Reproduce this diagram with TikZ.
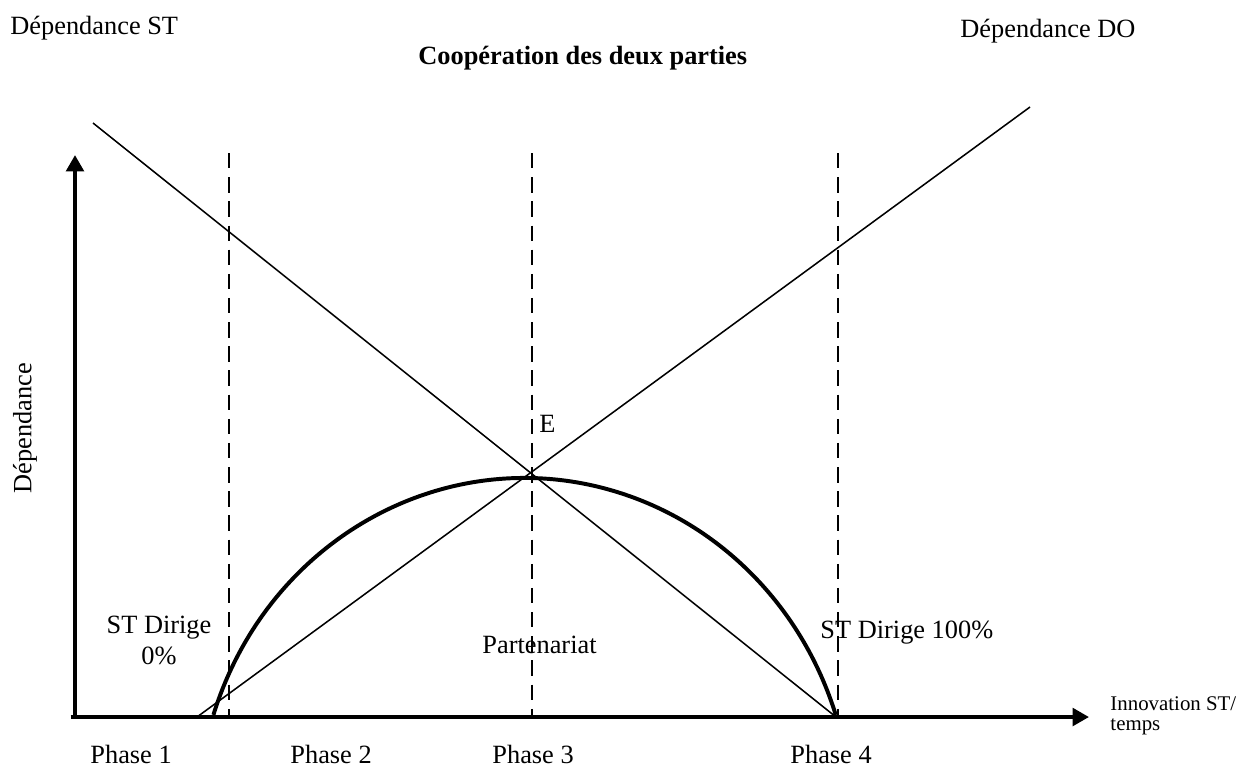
\documentclass[tikz,border=0pt]{standalone}
\usepackage{fontspec}
\setmainfont{Liberation Serif}
\usetikzlibrary{arrows.meta}
\tikzset{
  axe/.style={line width=1.8pt,-{Triangle[length=7.5pt,width=8pt]}},
  droite/.style={line width=0.7pt},
  limite/.style={line width=0.9pt,dash pattern=on 7pt off 4pt},
  courbe/.style={line width=1.8pt},
  txt/.style={inner sep=0pt,anchor=base west,font=\fontsize{12}{14}\selectfont},
  petit/.style={inner sep=0pt,anchor=base west,font=\fontsize{9.5}{10}\selectfont}
}
\begin{document}
\begin{tikzpicture}[x=0.16mm,y=0.16mm]
  \useasboundingbox (0,0) rectangle (1250,-769);
  % points
  \coordinate (O) at (75,-717);
  \coordinate (ytop) at (75,-155);
  \coordinate (xend) at (1089,-717);
  \coordinate (st1) at (93,-123);
  \coordinate (st2) at (836,-717);
  \coordinate (do1) at (197,-717);
  \coordinate (do2) at (1030,-107);
  \coordinate (c1) at (213.4,-714.9);
  % axes
  \draw[axe] (O) -- (ytop); % axe y
  \draw[axe] ([xshift=-2]O) -- (xend); % axe x
  % phases
  \foreach \x/\i in {229/1,532/2,838/3} {
    \coordinate (h\i) at (\x,-153);
    \coordinate (b\i) at (\x,-717);
    \draw[limite] (h\i) -- (b\i);
  }
  % les deux droites
  \draw[droite] (st1) -- (st2);
  \draw[droite] (do1) -- (do2);
  % cooperation
  \draw[courbe] (c1) arc[start angle=162.1,end angle=17.9,x radius=327,y radius=342];
  % textes
  \node[txt] (depst) at (10,-34) {Dépendance ST};
  \node[txt] (depdo) at (960,-37) {Dépendance DO};
  \node[txt,font=\fontsize{12}{14}\selectfont\bfseries] (titre) at (418,-64) {Coopération des deux parties};
  \node[inner sep=0pt,rotate=90,font=\fontsize{12}{14}\selectfont] (dep) at (25,-428) {Dépendance};
  \node[txt] (E) at (539,-432) {E};
  \node[txt,anchor=base] (dir0a) at (159,-633) {ST Dirige};
  \node[txt,anchor=base] (dir0b) at (159,-664) {0\%};
  \node[txt] (part) at (482,-653) {Partenariat};
  \node[txt] (dir100) at (820,-638) {ST Dirige 100\%};
  \node[petit] (innov) at (1110,-710) {Innovation ST/};
  \node[petit] (temps) at (1110,-730) {temps};
  \foreach \x/\i in {90/1,290/2,492/3,790/4}
    \node[txt] (ph\i) at (\x,-763) {Phase \i};
\end{tikzpicture}
\end{document}
